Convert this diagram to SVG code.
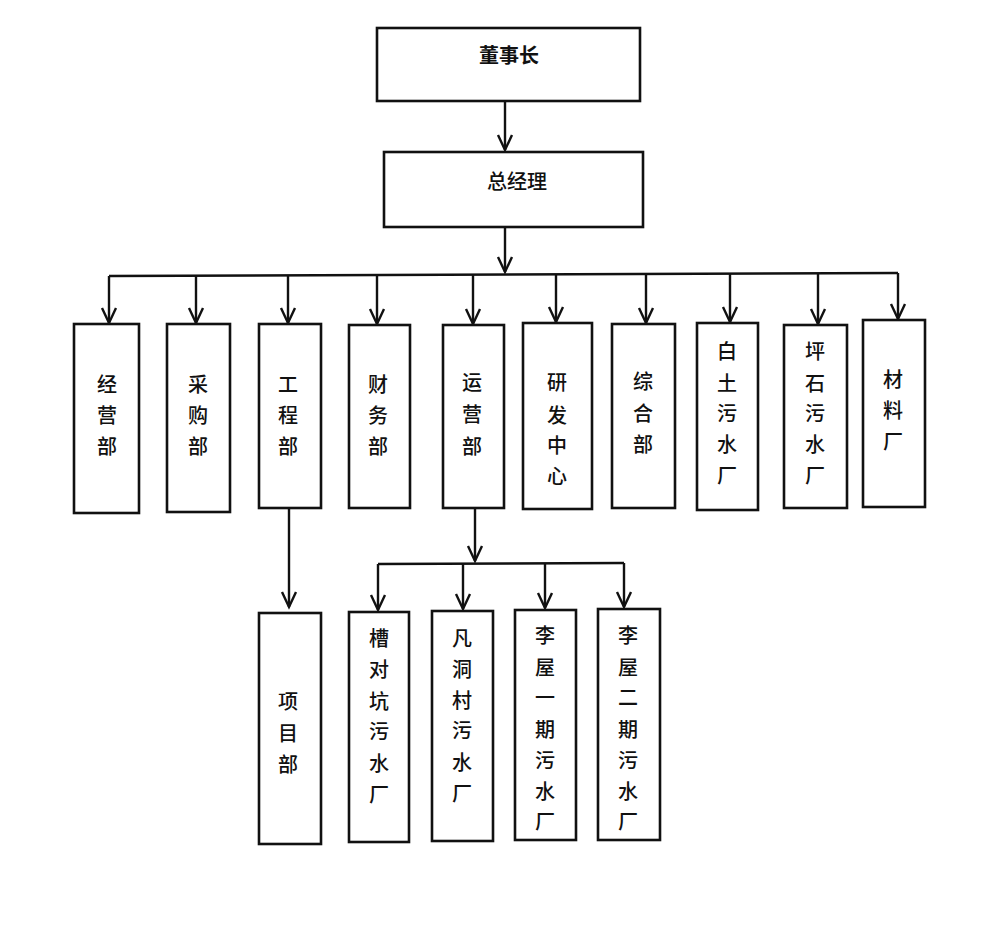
<svg xmlns="http://www.w3.org/2000/svg" width="1000" height="930" viewBox="0 0 1000 930">
<style>
.box{fill:#fff;stroke:#111;stroke-width:2.6}
.ln{fill:none;stroke:#111;stroke-width:2.4}
text{font-family:"Noto Sans CJK SC","Noto Sans",sans-serif;font-size:20px;font-weight:500;fill:#111;text-anchor:middle;dominant-baseline:central}
.t{font-weight:bold}
</style>
<defs>
<marker id="ah" markerUnits="userSpaceOnUse" markerWidth="24" markerHeight="24" viewBox="-18 -12 24 24" refX="0" refY="0" orient="auto-start-reverse">
<path d="M-15,-7 L0,0 L-15,7" fill="none" stroke="#111" stroke-width="2.4"/>
</marker>
</defs>
<rect width="1000" height="930" fill="#fff"/>
<g id="connectors">
<line class="ln" x1="505" y1="101" x2="505" y2="150" marker-end="url(#ah)"/>
<line class="ln" x1="505" y1="227" x2="505" y2="272" marker-end="url(#ah)"/>
<polyline class="ln" points="109,276 898,273"/>
<line class="ln" x1="109" y1="276" x2="109" y2="323" marker-end="url(#ah)"/>
<line class="ln" x1="196" y1="276" x2="196" y2="323" marker-end="url(#ah)"/>
<line class="ln" x1="288" y1="275" x2="288" y2="323" marker-end="url(#ah)"/>
<line class="ln" x1="377" y1="275" x2="377" y2="324" marker-end="url(#ah)"/>
<line class="ln" x1="473" y1="275" x2="473" y2="324" marker-end="url(#ah)"/>
<line class="ln" x1="556" y1="275" x2="556" y2="322" marker-end="url(#ah)"/>
<line class="ln" x1="646" y1="274" x2="646" y2="323" marker-end="url(#ah)"/>
<line class="ln" x1="730" y1="274" x2="730" y2="322" marker-end="url(#ah)"/>
<line class="ln" x1="818" y1="274" x2="818" y2="324" marker-end="url(#ah)"/>
<line class="ln" x1="898" y1="273" x2="898" y2="319" marker-end="url(#ah)"/>
<line class="ln" x1="289" y1="508" x2="289" y2="607" marker-end="url(#ah)"/>
<line class="ln" x1="475" y1="508" x2="475" y2="561" marker-end="url(#ah)"/>
<polyline class="ln" points="378,564 624,563"/>
<line class="ln" x1="378" y1="564" x2="378" y2="610" marker-end="url(#ah)"/>
<line class="ln" x1="463" y1="564" x2="463" y2="609" marker-end="url(#ah)"/>
<line class="ln" x1="545" y1="563" x2="545" y2="608" marker-end="url(#ah)"/>
<line class="ln" x1="624" y1="563" x2="624" y2="607" marker-end="url(#ah)"/>
</g>
<g id="n-dongshizhang"><rect class="box" x="377" y="28" width="263" height="73"/><text class="t" x="509" y="54">董事长</text></g>
<g id="n-zongjingli"><rect class="box" x="384" y="152" width="259" height="75"/><text x="517" y="180">总经理</text></g>
<g id="n-jingying"><rect class="box" x="74" y="324" width="65" height="189"/><text x="107" y="383">经</text><text x="107" y="414">营</text><text x="107" y="445">部</text></g>
<g id="n-caigou"><rect class="box" x="167" y="324" width="63" height="188"/><text x="198" y="383">采</text><text x="198" y="414">购</text><text x="198" y="445">部</text></g>
<g id="n-gongcheng"><rect class="box" x="259" y="324" width="62" height="184"/><text x="288" y="383">工</text><text x="288" y="414">程</text><text x="288" y="445">部</text></g>
<g id="n-caiwu"><rect class="box" x="349" y="325" width="61" height="183"/><text x="378" y="383">财</text><text x="378" y="414">务</text><text x="378" y="445">部</text></g>
<g id="n-yunying"><rect class="box" x="443" y="325" width="61" height="183"/><text x="472" y="381">运</text><text x="472" y="413">营</text><text x="472" y="445">部</text></g>
<g id="n-yanfa"><rect class="box" x="523" y="323" width="69" height="186"/><text x="557" y="381">研</text><text x="557" y="414">发</text><text x="557" y="444">中</text><text x="557" y="475">心</text></g>
<g id="n-zonghe"><rect class="box" x="612" y="324" width="63" height="184"/><text x="643" y="380">综</text><text x="643" y="412">合</text><text x="643" y="443">部</text></g>
<g id="n-baitu"><rect class="box" x="697" y="323" width="61" height="187"/><text x="727" y="350">白</text><text x="727" y="382">土</text><text x="727" y="412">污</text><text x="727" y="443">水</text><text x="727" y="474">厂</text></g>
<g id="n-pingshi"><rect class="box" x="784" y="325" width="63" height="183"/><text x="815" y="350">坪</text><text x="815" y="382">石</text><text x="815" y="412">污</text><text x="815" y="443">水</text><text x="815" y="474">厂</text></g>
<g id="n-cailiao"><rect class="box" x="863" y="320" width="62" height="187"/><text x="893" y="378">材</text><text x="893" y="409">料</text><text x="893" y="440">厂</text></g>
<g id="n-xiangmu"><rect class="box" x="259" y="613" width="62" height="231"/><text x="288" y="700">项</text><text x="288" y="732">目</text><text x="288" y="763">部</text></g>
<g id="n-caoduikeng"><rect class="box" x="349" y="612" width="60" height="230"/><text x="379" y="637">槽</text><text x="379" y="668">对</text><text x="379" y="700">坑</text><text x="379" y="730">污</text><text x="379" y="762">水</text><text x="379" y="793">厂</text></g>
<g id="n-fandongcun"><rect class="box" x="432" y="611" width="61" height="230"/><text x="462" y="637">凡</text><text x="462" y="668">洞</text><text x="462" y="699">村</text><text x="462" y="729">污</text><text x="462" y="761">水</text><text x="462" y="792">厂</text></g>
<g id="n-liwu1"><rect class="box" x="515" y="610" width="61" height="230"/><text x="545" y="634">李</text><text x="545" y="666">屋</text><text x="545" y="696">一</text><text x="545" y="728">期</text><text x="545" y="759">污</text><text x="545" y="790">水</text><text x="545" y="820">厂</text></g>
<g id="n-liwu2"><rect class="box" x="598" y="609" width="62" height="231"/><text x="628" y="634">李</text><text x="628" y="666">屋</text><text x="628" y="696">二</text><text x="628" y="728">期</text><text x="628" y="759">污</text><text x="628" y="790">水</text><text x="628" y="820">厂</text></g>
</svg>
